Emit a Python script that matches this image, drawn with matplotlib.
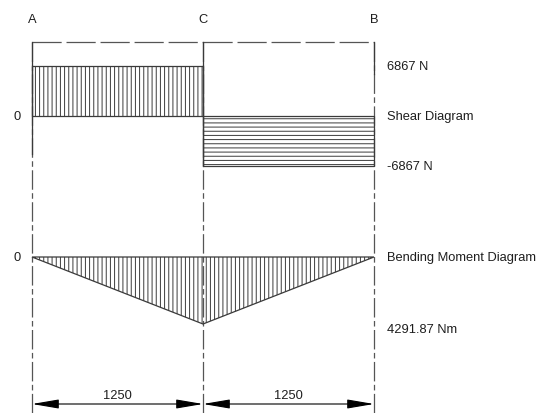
"""Shear force and bending moment diagram for a simply supported beam, centre point load."""

import matplotlib

matplotlib.use("Agg")
import matplotlib.pyplot as plt
from matplotlib.patches import Polygon, Rectangle
from matplotlib.transforms import blended_transform_factory

plt.rcParams["font.family"] = ["Liberation Sans", "DejaVu Sans"]
plt.rcParams["font.size"] = 9.3
plt.rcParams["lines.scale_dashes"] = False
plt.rcParams["hatch.linewidth"] = 0.7

# beam data (mm, N, Nm)
points = ["A", "C", "B"]
spans = [1250, 1250]
shear = [6867, -6867]
moment = [0, 4291.87, 0]
shear_labels = ["6867 N", "Shear Diagram", "-6867 N"]
moment_labels = ["Bending Moment Diagram", "4291.87 Nm"]

stations = [0, spans[0], spans[0] + spans[1]]
length = stations[-1]

# page layout in pixels
W, H = 543, 414
X0_PX, X1_PX = 32, 374
V0_PX, V_PX = 117, 50        # shear zero line, height of 6867 N
M0_PX, M_PX = 258, 67        # moment zero line, depth of max moment
TOP_PX, DIM_PX = 43, 405

LINE = "#3a3a3a"
TEXT = "#1e1e1e"

x_scale = (X1_PX - X0_PX) / length
v_scale = V_PX / max(shear)
m_scale = M_PX / max(moment)

fig = plt.figure(figsize=(W / 100, H / 100), dpi=100)
ax_v = fig.add_axes([0, 0, 1, 1])
ax_m = fig.add_axes([0, 0, 1, 1])
for axis in (ax_v, ax_m):
    axis.set_xlim(-X0_PX / x_scale, (W - X0_PX) / x_scale)
    axis.axis("off")
    axis.patch.set_alpha(0)
ax_v.set_ylim(-(H - V0_PX) / v_scale, V0_PX / v_scale)
ax_m.set_ylim((H - M0_PX) / m_scale, -M0_PX / m_scale)  # sagging drawn downward


def fy(px):
    """Pixel row -> axes fraction."""
    return 1 - px / H


frame = blended_transform_factory(ax_v.transData, ax_v.transAxes)
center_dash = (0, (14, 2.5, 4, 2.5))
long_dash = (0, (21, 3.5))

# extension lines through A, C, B
for x, name in zip(stations, points):
    ax_v.plot([x, x], [fy(TOP_PX), 0], transform=frame, color="#555555", lw=0.9,
              ls=center_dash, zorder=1)
    ax_v.text(x, fy(20), name, transform=frame, ha="center", va="center", color=TEXT)

# top frame line
for x_a, x_b in zip(stations[:-1], stations[1:]):
    ax_v.plot([x_a, x_b], [fy(TOP_PX), fy(TOP_PX)], transform=frame, color="#555555",
              lw=0.9, ls=long_dash, zorder=1)
ax_v.plot([0, 0], [fy(TOP_PX), fy(155)], transform=frame, color=LINE, lw=0.9)
ax_v.plot([spans[0], spans[0]], [fy(TOP_PX), fy(V0_PX + V_PX)], transform=frame,
          color=LINE, lw=0.9)
ax_v.plot([length, length], [fy(TOP_PX), fy(75)], transform=frame, color=LINE, lw=0.9)

# shear diagram
ax_v.add_patch(Rectangle((stations[0], 0), spans[0], shear[0], facecolor="none",
                         edgecolor=LINE, hatch="||||", lw=0.9))
ax_v.add_patch(Rectangle((stations[1], 0), spans[1], shear[1], facecolor="none",
                         edgecolor=LINE, hatch="----", lw=0.9))
ax_v.text(-15 / x_scale, 0, "0", ha="center", va="center", color=TEXT)
for value, label in zip([shear[0], 0, shear[1]], shear_labels):
    ax_v.annotate(label, (length, value), xytext=(9.5, 0), textcoords="offset points",
                  ha="left", va="center", color=TEXT)

# bending moment diagram
ax_m.add_patch(Polygon(list(zip(stations, moment)), closed=True, facecolor="none",
                       edgecolor=LINE, hatch="||||", lw=0.9))
ax_m.text(-15 / x_scale, 0, "0", ha="center", va="center", color=TEXT)
ax_m.annotate(moment_labels[0], (length, 0), xytext=(9.5, 0), textcoords="offset points",
              ha="left", va="center", color=TEXT)
ax_m.annotate(moment_labels[1], (length, max(moment)), xytext=(9.5, -3.6),
              textcoords="offset points", ha="left", va="center", color=TEXT)

# dimension line
for x_a, x_b, span in zip(stations[:-1], stations[1:], spans):
    ax_v.annotate("", xy=(x_a, fy(DIM_PX)), xytext=(x_b, fy(DIM_PX)),
                  xycoords=frame, textcoords=frame,
                  arrowprops=dict(arrowstyle="<|-|>,head_length=16.5,head_width=2.8",
                                  mutation_scale=1, color="black", lw=0.8,
                                  shrinkA=0, shrinkB=0))
    ax_v.text((x_a + x_b) / 2, fy(396), str(span), transform=frame, ha="center",
              va="center", color=TEXT)

fig.savefig("out.png", dpi=100)
